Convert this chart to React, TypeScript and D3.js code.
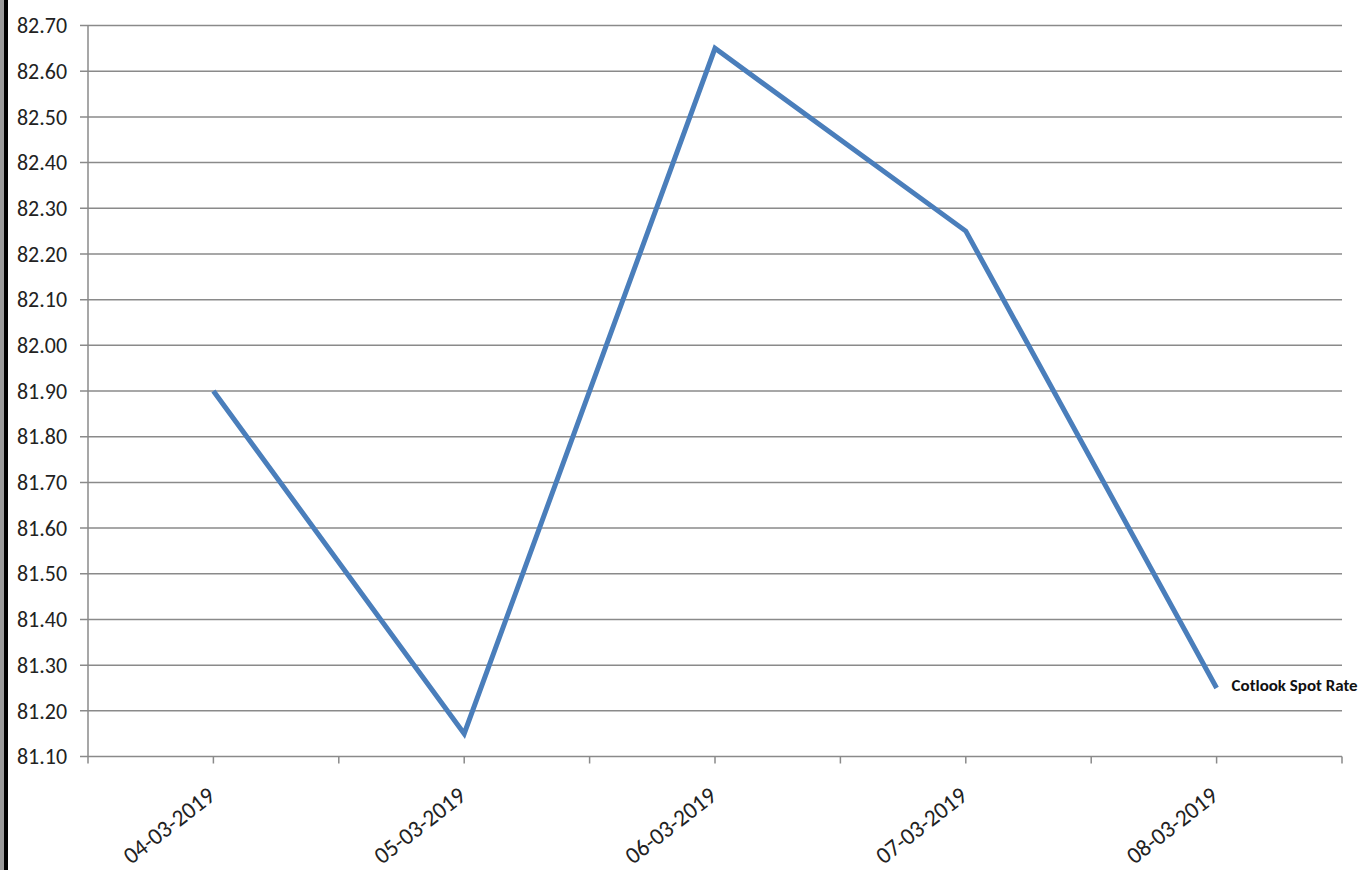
import * as d3 from 'd3';

const categories = ['04-03-2019', '05-03-2019', '06-03-2019', '07-03-2019', '08-03-2019'];
const spotRate = [81.9, 81.15, 82.65, 82.25, 81.25];
const yTicks = [81.1, 81.2, 81.3, 81.4, 81.5, 81.6, 81.7, 81.8, 81.9, 82.0, 82.1, 82.2, 82.3, 82.4, 82.5, 82.6, 82.7];
const seriesName = 'Cotlook Spot Rate';

const W = 1366;
const H = 870;
const plot = { left: 88, right: 1342, top: 25.5, bottom: 756.5 };
const GRID = '#8a8a8a';
const LINE = '#4a7ebb';
const FONT = "Carlito, 'Liberation Sans', Arial, sans-serif";

export default function App() {
  const x = d3.scaleBand<string>().domain(categories).range([plot.left, plot.right]).padding(0);
  const y = d3.scaleLinear().domain([81.1, 82.7]).range([plot.bottom, plot.top]);
  const bw = x.bandwidth();
  const cx = (c: string) => (x(c) ?? 0) + bw / 2;

  // ticks on every band edge and band centre, like the source chart
  const xTickPos = [
    ...categories.flatMap((c) => [x(c) ?? 0, cx(c)]),
    plot.right,
  ];

  const line = d3
    .line<number>()
    .x((_, i) => cx(categories[i]))
    .y((d) => y(d));

  const last = spotRate.length - 1;

  return (
    <div style={{ position: 'absolute', left: 0, top: 0 }}>
      <svg width={W} height={H} style={{ display: 'block', background: '#fff' }}>
        {/* left frame edge */}
        <rect x={0} y={0} width={4} height={H} fill="#9a9a9a" />
        <rect x={4} y={0} width={4} height={H} fill="#000" />

        {/* gridlines + y labels */}
        {yTicks.map((t) => (
          <g key={t}>
            <line x1={80} x2={plot.right} y1={y(t)} y2={y(t)} stroke={GRID} strokeWidth={1.5} />
            <text
              x={67}
              y={y(t)}
              dy="0.35em"
              textAnchor="end"
              fontFamily={FONT}
              fontSize={22}
              textLength={50}
              lengthAdjust="spacingAndGlyphs"
              fill="#222"
            >
              {t.toFixed(2)}
            </text>
          </g>
        ))}

        {/* y axis */}
        <line x1={plot.left} x2={plot.left} y1={plot.top} y2={plot.bottom} stroke={GRID} strokeWidth={1.5} />

        {/* x ticks */}
        {xTickPos.map((p, i) => (
          <line key={i} x1={p} x2={p} y1={plot.bottom} y2={plot.bottom + 7} stroke={GRID} strokeWidth={1.5} />
        ))}

        {/* x labels */}
        {categories.map((c) => (
          <text
            key={c}
            transform={`translate(${cx(c) + 3},${plot.bottom + 42}) rotate(-38)`}
            textAnchor="end"
            fontFamily={FONT}
            fontSize={24}
            textLength={108}
            lengthAdjust="spacingAndGlyphs"
            fill="#222"
          >
            {c}
          </text>
        ))}

        {/* series */}
        <path
          d={line(spotRate) ?? ''}
          fill="none"
          stroke={LINE}
          strokeWidth={5}
          strokeLinejoin="miter"
        />

        {/* series label */}
        <text
          x={cx(categories[last]) + 15}
          y={y(spotRate[last]) + 3}
          fontFamily={FONT}
          fontWeight="bold"
          fontSize={16}
          textLength={126}
          lengthAdjust="spacingAndGlyphs"
          fill="#111"
        >
          {seriesName}
        </text>
      </svg>
    </div>
  );
}
